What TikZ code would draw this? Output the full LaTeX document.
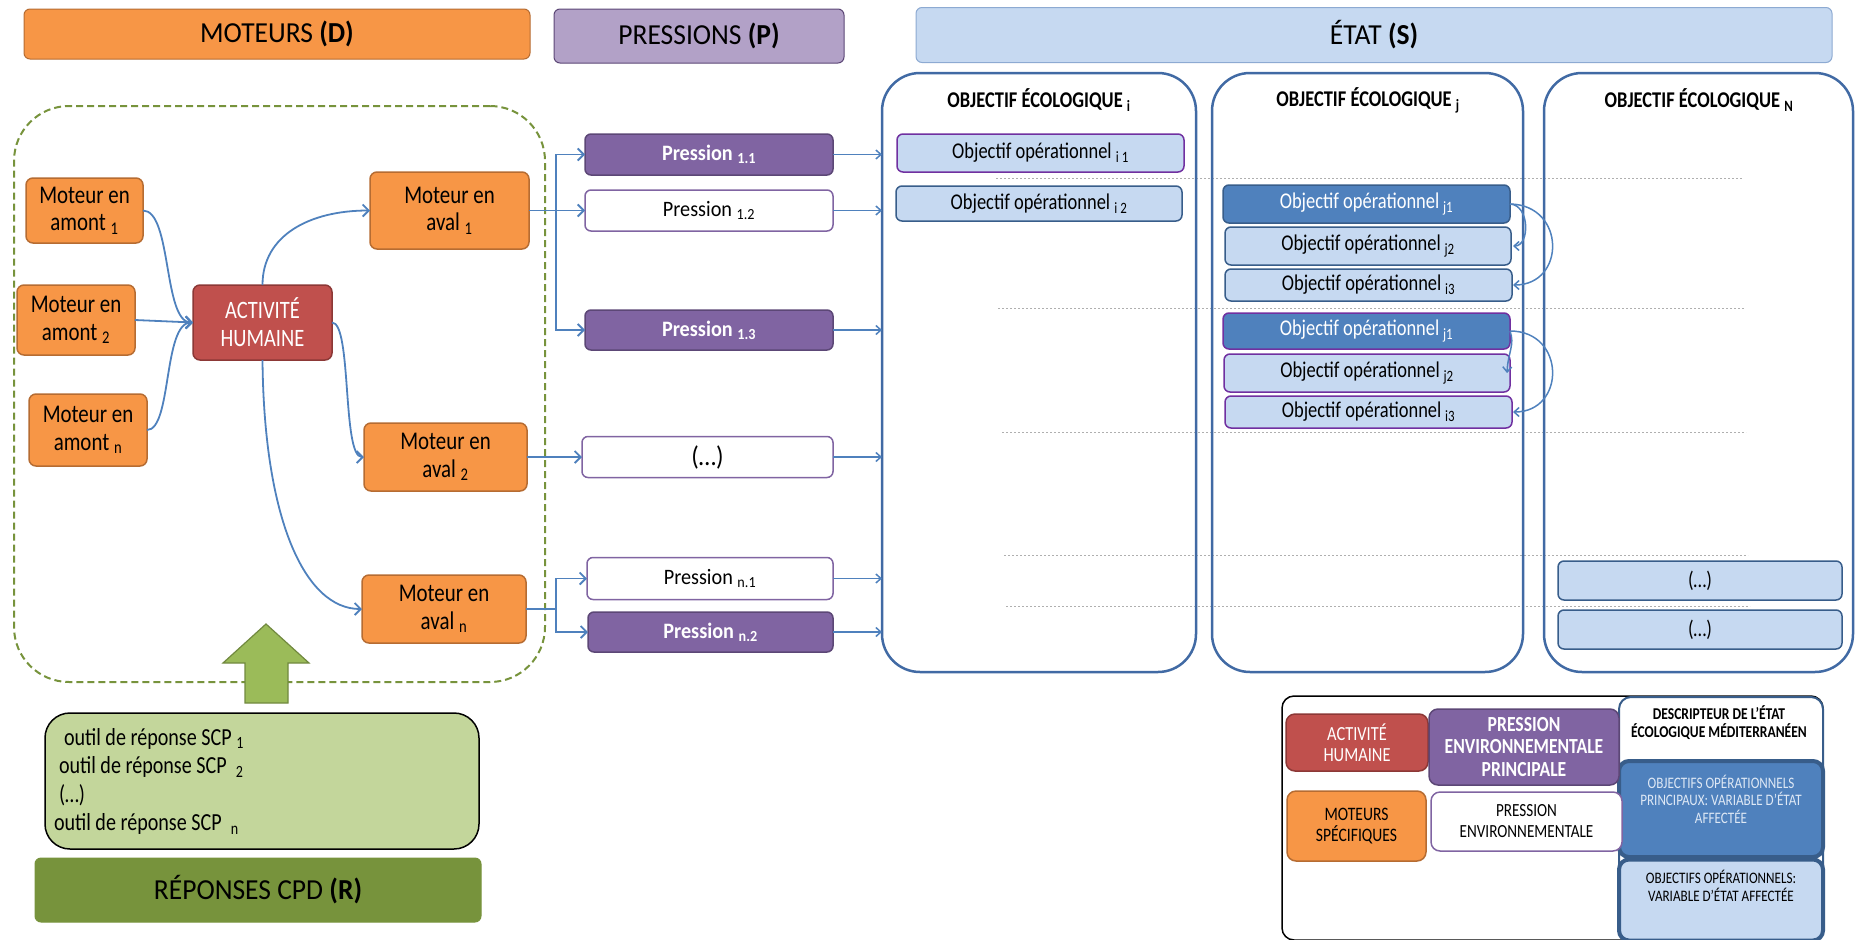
\documentclass[tikz,border=0pt]{standalone}
\usepackage{fontspec}
\setmainfont{Carlito}[FakeStretch=0.82]
\newfontfamily\pfont{Carlito}[FakeStretch=0.92]
\newfontfamily\hfont{Carlito}[FakeStretch=0.95]
\usetikzlibrary{arrows.meta}

\definecolor{orangeF}{RGB}{247,150,70}
\definecolor{orangeB}{RGB}{182,108,50}
\definecolor{redF}{RGB}{192,80,77}
\definecolor{redB}{RGB}{140,56,54}
\definecolor{purF}{RGB}{128,100,162}
\definecolor{purB}{RGB}{92,71,118}
\definecolor{lilacF}{RGB}{178,161,199}
\definecolor{ltblue}{RGB}{198,217,241}
\definecolor{ltblueB}{RGB}{141,170,210}
\definecolor{dkblue}{RGB}{79,129,189}
\definecolor{dkblueB}{RGB}{56,93,138}
\definecolor{colB}{RGB}{65,106,164}
\definecolor{violetB}{RGB}{112,48,160}
\definecolor{linkC}{RGB}{79,129,189}
\definecolor{greenD}{RGB}{119,147,60}
\definecolor{greenA}{RGB}{155,187,89}
\definecolor{greenAB}{RGB}{113,137,63}
\definecolor{greenL}{RGB}{195,214,155}
\definecolor{dotC}{RGB}{175,175,175}
\definecolor{paleT}{RGB}{222,232,245}

\newcommand\fs[2]{\fontsize{#1}{#2}\selectfont}

\tikzset{
  every node/.style={inner sep=0pt, outer sep=0pt},
  tbox/.style={rectangle, rounded corners=7pt, align=center, line width=1.5pt},
  header/.style={tbox, rounded corners=6pt, line width=1pt, font=\hfont\fs{29}{32}},
  moteur/.style={tbox, fill=orangeF, draw=orangeB, font=\fs{25.5}{27.5}},
  activ/.style={tbox, fill=redF, draw=redB, text=white, font=\fs{25}{28}},
  presF/.style={tbox, rounded corners=6pt, fill=purF, draw=purB, text=white, font=\pfont\bfseries\fs{22}{24}},
  presW/.style={tbox, rounded corners=6pt, fill=white, draw=purF, font=\pfont\fs{22}{24}},
  colonne/.style={rectangle, rounded corners=38pt, draw=colB, line width=2.5pt},
  coltitle/.style={font=\bfseries\fs{22.5}{24}},
  opL/.style={tbox, rounded corners=6pt, fill=ltblue, draw=dkblueB, font=\fs{22.5}{24}},
  opD/.style={tbox, rounded corners=6pt, fill=dkblue, draw=dkblueB, text=white, font=\fs{22.5}{24}},
  bus/.style={draw=linkC, line width=1.8pt},
  link/.style={bus, -{Straight Barb[length=6pt,width=12pt]}},
  slink/.style={draw=linkC, line width=1.5pt, -{Straight Barb[length=5pt,width=9pt]}},
  dotline/.style={draw=dotC, line width=1pt, dash pattern=on 2pt off 2pt},
  legbox/.style={tbox, rounded corners=9pt, line width=1.5pt},
}

\begin{document}
\begin{tikzpicture}[x=1pt, y=-1pt]
\useasboundingbox (0,0) rectangle (1856,940);

% ---------- column headers ----------
\node[header, fill=orangeF, draw=orangeB, minimum width=506, minimum height=50] (hD) at (277,34) {MOTEURS \textbf{(D)}};
\node[header, fill=lilacF, draw=purB, minimum width=290, minimum height=54] (hP) at (699,36) {PRESSIONS \textbf{(P)}};
\node[header, fill=ltblue, draw=ltblueB, minimum width=916, minimum height=55] (hS) at (1374,35) {ÉTAT \textbf{(S)}};

% ---------- drivers ----------
\node[draw=greenD, line width=2pt, dash pattern=on 7pt off 4pt, rounded corners=55pt,
      minimum width=531, minimum height=576] (zone) at (279.5,394) {};

\node[moteur, minimum width=117, minimum height=65] (am1) at (84.5,210.5) {Moteur en\\amont \textsubscript{1}};
\node[moteur, minimum width=118, minimum height=70] (am2) at (76,320) {Moteur en\\amont \textsubscript{2}};
\node[moteur, minimum width=118, minimum height=72] (amn) at (88,430) {Moteur en\\amont \textsubscript{n}};
\node[activ, minimum width=139, minimum height=75] (act) at (262.5,322.5) {ACTIVITÉ\\HUMAINE};
\node[moteur, minimum width=159, minimum height=77] (av1) at (449.5,210.5) {Moteur en\\aval \textsubscript{1}};
\node[moteur, minimum width=163, minimum height=68] (av2) at (445.5,457) {Moteur en\\aval \textsubscript{2}};
\node[moteur, minimum width=164, minimum height=68] (avn) at (444,609) {Moteur en\\aval \textsubscript{n}};

\draw[link] (am1.east) .. controls (172,210.5) and (163,322.5) .. (act.west);
\draw[link] (am2.east) -- (act.west);
\draw[link] (amn.east) .. controls (172,430) and (163,322.5) .. (act.west);
\draw[link] (act.north) .. controls (262.5,235) and (310,210.5) .. (av1.west);
\draw[link] (act.east) .. controls (352,322.5) and (342,457) .. (av2.west);
\draw[link] (act.south) .. controls (264,520) and (305,609) .. (avn.west);

% ---------- responses ----------
\draw[fill=greenA, draw=greenAB, line width=1.2pt]
  (245,703) -- (245,663) -- (223,663) -- (266,624) -- (309,663) -- (288,663) -- (288,703) -- cycle;
\node[tbox, rounded corners=25pt, fill=greenL, draw=black, minimum width=434, minimum height=136] (outils) at (262,781) {};
\node[anchor=north west, align=left, font=\fs{24.5}{28.5}] (outilsT) at (54,728)
  {\hspace*{10pt}outil de réponse SCP \textsubscript{1}\\
   \hspace*{5pt}outil de réponse SCP \ \textsubscript{2}\\
   \hspace*{5pt}(…)\\
   outil de réponse SCP \ \textsubscript{n}};
\node[header, fill=greenD, draw=greenD, minimum width=446, minimum height=64] (hR) at (258,890) {RÉPONSES CPD \textbf{(R)}};

% ---------- pressures ----------
\node[presF, minimum width=248, minimum height=41] (p11) at (709,154.5) {Pression \textsubscript{1.1}};
\node[presW, minimum width=248, minimum height=41] (p12) at (709,210.5) {Pression \textsubscript{1.2}};
\node[presF, minimum width=248, minimum height=40] (p13) at (709,330) {Pression \textsubscript{1.3}};
\node[presW, minimum width=251, minimum height=41, font=\pfont\fs{27}{28}] (pdots) at (707.5,457) {(…)};
\node[presW, minimum width=246, minimum height=42] (pn1) at (710,578.5) {Pression \textsubscript{n.1}};
\node[presF, minimum width=245, minimum height=40] (pn2) at (710.5,632) {Pression \textsubscript{n.2}};

\coordinate (busA) at (556,210.5);
\coordinate (busN) at (556,609);
\draw[bus] (av1.east) -- (busA);
\draw[link] (busA) |- (p11.west);
\draw[link] (busA) -- (p12.west);
\draw[link] (busA) |- (p13.west);
\draw[link] (av2.east) -- (pdots.west);
\draw[bus] (avn.east) -- (busN);
\draw[link] (busN) |- (pn1.west);
\draw[link] (busN) |- (pn2.west);

% ---------- state ----------
\draw[dotline] (996,178) -- (1742,178);
\draw[dotline] (998,308) -- (1744,308);
\draw[dotline] (1002,432) -- (1746,432);
\draw[dotline] (1004,555) -- (1748,555);
\draw[dotline] (1006,606) -- (1750,606);

\node[colonne, minimum width=314, minimum height=599] (colI) at (1039,372.5) {};
\node[colonne, minimum width=311, minimum height=599] (colJ) at (1367.5,372.5) {};
\node[colonne, minimum width=309, minimum height=599] (colN) at (1698.5,372.5) {};
\node[coltitle] (tI) at (1039,100) {OBJECTIF ÉCOLOGIQUE \textsubscript{i}};
\node[coltitle] (tJ) at (1368,100) {OBJECTIF ÉCOLOGIQUE \textsubscript{j}};
\node[coltitle] (tN) at (1699,100) {OBJECTIF ÉCOLOGIQUE \textsubscript{N}};

\foreach \p in {p11,p12,p13,pdots,pn1,pn2}
  \draw[slink] (\p.east) -- (\p.east -| colI.west);

\node[opL, draw=violetB, minimum width=287, minimum height=38] (oi1) at (1040.5,153) {Objectif opérationnel \textsubscript{i 1}};
\node[opL, minimum width=286, minimum height=35] (oi2) at (1039,203.5) {Objectif opérationnel \textsubscript{i 2}};

\node[opD, minimum width=287, minimum height=38] (j1a) at (1366.5,204) {Objectif opérationnel\,\textsubscript{j1}};
\node[opL, minimum width=286, minimum height=38] (j2a) at (1368,246) {Objectif opérationnel\,\textsubscript{j2}};
\node[opL, minimum width=287, minimum height=32] (i3a) at (1368.5,285) {Objectif opérationnel\,\textsubscript{i3}};
\node[opD, draw=violetB, minimum width=287, minimum height=36] (j1b) at (1366.5,331) {Objectif opérationnel\,\textsubscript{j1}};
\node[opL, draw=violetB, minimum width=286, minimum height=38] (j2b) at (1367,373) {Objectif opérationnel\,\textsubscript{j2}};
\node[opL, draw=violetB, minimum width=287, minimum height=32] (i3b) at (1368.5,412) {Objectif opérationnel\,\textsubscript{i3}};

\draw[slink] (j1a.east) .. controls (1530,205) and (1530,246) .. ([xshift=2pt]j2a.east);
\draw[slink] (j1a.east) .. controls (1566,205) and (1566,285) .. ([xshift=1pt]i3a.east);
\draw[slink] (j1b.east) .. controls (1515,345) and (1508,352) .. ([xshift=-3pt]j2b.east);
\draw[slink] (j1b.east) .. controls (1566,331) and (1566,412) .. ([xshift=1pt]i3b.east);

\node[opL, minimum width=284, minimum height=39] (nA) at (1700,580.5) {(…)};
\node[opL, minimum width=284, minimum height=39] (nB) at (1700,629.5) {(…)};

% ---------- legend ----------
\node[legbox, draw=black, rounded corners=12pt, minimum width=541, minimum height=244] (leg) at (1552.5,818) {};
\node[legbox, fill=white, draw=dkblueB, line width=2pt, rounded corners=12pt, minimum width=204, minimum height=243] (lDesc) at (1721,818.5) {};
\node[font=\bfseries\fs{16.5}{18}, align=center] (lDescT) at (1719,723) {DESCRIPTEUR DE L'ÉTAT\\ÉCOLOGIQUE MÉDITERRANÉEN};
\node[legbox, fill=dkblue, draw=dkblueB, line width=4pt, rounded corners=10pt, minimum width=204, minimum height=96] (lPrinc) at (1721,809) {};
\node[font=\fs{16}{17.5}, text=paleT, align=center] (lPrincT) at (1721,799) {OBJECTIFS OPÉRATIONNELS\\PRINCIPAUX: VARIABLE D’ÉTAT\\AFFECTÉE};
\node[legbox, fill=ltblue, draw=dkblueB, line width=4pt, rounded corners=10pt, minimum width=204, minimum height=81] (lSec) at (1721,900) {};
\node[font=\fs{16}{17.5}, align=center] (lSecT) at (1721,886) {OBJECTIFS OPÉRATIONNELS:\\VARIABLE D’ÉTAT AFFECTÉE};

\node[legbox, fill=redF, draw=redB, text=white, font=\fs{20}{21.5}, minimum width=142, minimum height=57] (lAct) at (1357,742.5) {ACTIVITÉ\\HUMAINE};
\node[legbox, fill=purF, draw=purB, text=white, font=\bfseries\fs{21.5}{22.5}, minimum width=190, minimum height=76] (lPres) at (1524,747) {PRESSION\\ENVIRONNEMENTALE\\PRINCIPALE};
\node[legbox, fill=orangeF, draw=orangeB, font=\fs{19}{21}, minimum width=139, minimum height=70] (lMot) at (1356.5,826) {MOTEURS\\SPÉCIFIQUES};
\node[legbox, fill=white, draw=purF, font=\fs{18.5}{21}, minimum width=191, minimum height=59] (lPresW) at (1526.5,821.5) {PRESSION\\ENVIRONNEMENTALE};

\end{tikzpicture}
\end{document}
